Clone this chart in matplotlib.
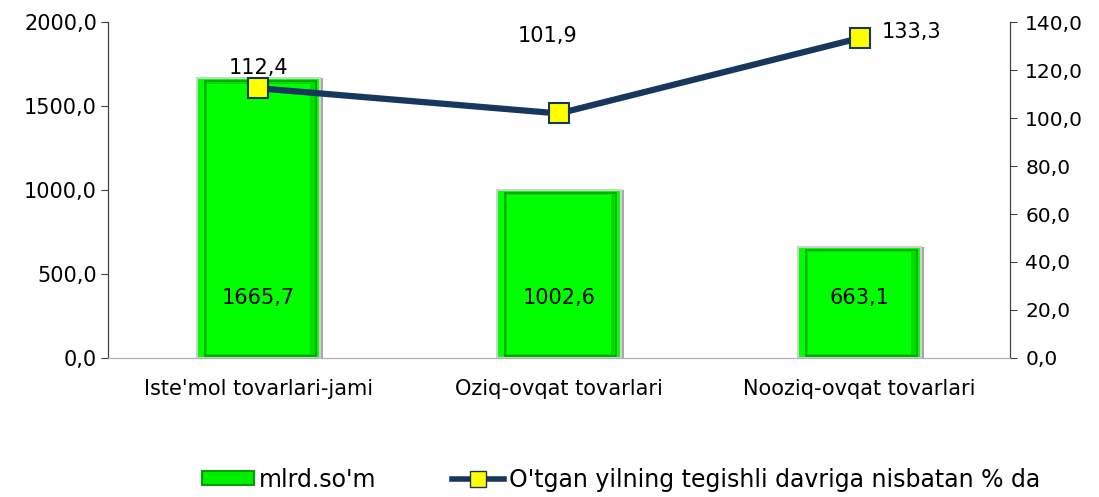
import matplotlib
matplotlib.use("Agg")
import matplotlib.pyplot as plt
from matplotlib.ticker import FuncFormatter, MultipleLocator
from matplotlib.patches import Patch
from matplotlib.lines import Line2D

categories = ["Iste'mol tovarlari-jami", "Oziq-ovqat tovarlari", "Nooziq-ovqat tovarlari"]
bar_values = [1665.7, 1002.6, 663.1]
line_values = [112.4, 101.9, 133.3]
bar_name = "mlrd.so'm"
line_name = "O'tgan yilning tegishli davriga nisbatan % da"

def comma(v, pos=None):
    return f"{v:.1f}".replace(".", ",")

plt.rcParams['font.family'] = ['DejaVu Sans']

fig = plt.figure(figsize=(10.99, 4.97), dpi=100)
ax = fig.add_axes([0.0983, 0.2797, 0.8207, 0.676])
ax2 = ax.twinx()

x = list(range(len(categories)))
bw = 0.41
# shadow / outer rim
ax.bar([i + 0.01 for i in x], bar_values, width=bw, color='#a8a8a8', zorder=1)
ax.bar(x, bar_values, width=bw, color='#00ff00', edgecolor='#d0d0d0', linewidth=1.5, zorder=2)
ax.bar([i + 0.006 for i in x], [v - 30 for v in bar_values], width=bw * 0.9, bottom=12,
       color='#00dd00', edgecolor='#00a000', linewidth=1.2, zorder=3)
ax.bar(x, [v - 60 for v in bar_values], width=bw * 0.84, bottom=25,
       color='#00ff00', linewidth=0, zorder=4)

for i, v in zip(x, bar_values):
    ax.annotate(comma(v), (i, 0), xytext=(0, 60), textcoords='offset pixels',
                ha='center', va='center', fontsize=15, zorder=5)

ax.set_xlim(-0.5, len(categories) - 0.5)
ax.set_ylim(0, 2000)
ax.yaxis.set_major_locator(MultipleLocator(500))
ax.yaxis.set_major_formatter(FuncFormatter(comma))
ax.set_xticks(x)
ax.set_xticklabels(categories, fontsize=15)
ax.tick_params(axis='x', length=0, pad=15)
ax.tick_params(axis='y', labelsize=15, direction='out', length=5, color='#404040', pad=3)

ax2.set_ylim(0, 140)
ax2.yaxis.set_major_locator(MultipleLocator(20))
ax2.yaxis.set_major_formatter(FuncFormatter(comma))
ax2.tick_params(axis='y', labelsize=14.5, direction='out', length=5, color='#404040', pad=6)

ax2.plot(x, line_values, color='#17375e', linewidth=4.5, marker='s', markersize=14,
         markerfacecolor='#ffff00', markeredgecolor='#17375e', markeredgewidth=1.5, zorder=6)

offsets = [(0, 20), (-11, 77), (22, 6)]
aligns = ['center', 'center', 'left']
for i, v, off, al in zip(x, line_values, offsets, aligns):
    ax2.annotate(comma(v), (i, v), xytext=off, textcoords='offset pixels',
                 ha=al, va='center', fontsize=15, zorder=7)

for a in (ax, ax2):
    a.spines['top'].set_visible(False)
    a.spines['bottom'].set_color('#b0b0b0')
    a.spines['left'].set_color('#404040')
    a.spines['right'].set_color('#404040')

handles = [Patch(facecolor='#00ee00', edgecolor='#00a000', linewidth=1.5),
           Line2D([0], [0], color='#17375e', linewidth=4, marker='s', markersize=11,
                  markerfacecolor='#ffff00', markeredgecolor='#17375e')]
fig.legend(handles, [bar_name, line_name], loc='center', bbox_to_anchor=(0.565, 0.035),
           ncol=2, frameon=False, fontsize=17, columnspacing=3.2, handlelength=2.2,
           handletextpad=0.2, handleheight=0.5)

fig.savefig("out.png", dpi=100)
